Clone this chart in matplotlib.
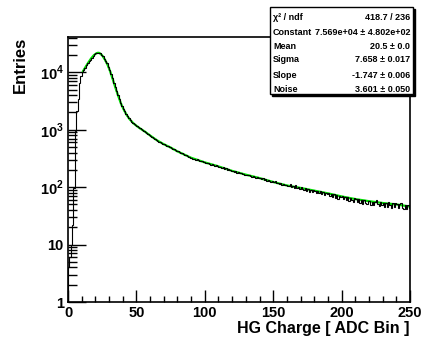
import numpy as np
import matplotlib
matplotlib.use("Agg")
import matplotlib.pyplot as plt
from matplotlib.patches import Rectangle

plt.rcParams['font.family'] = ['Liberation Sans', 'DejaVu Sans']
plt.rcParams['mathtext.fontset'] = 'custom'
plt.rcParams['mathtext.rm'] = 'Liberation Sans:bold'
plt.rcParams['mathtext.bf'] = 'Liberation Sans:bold'

# histogram: 250 bins of width 1, counts
edges = np.arange(0, 251)
counts = [
    4, 6, 10, 22, 95, 950, 2100, 3400, 6600, 8800,
    10000, 11000, 12100, 13200, 14400, 15600, 16700, 18100, 19500, 20500,
    21300, 21900, 21800, 21300, 20300, 19000, 17400, 15800, 14300, 12600,
    10900, 9300, 7900, 6600, 5500, 4700, 3980, 3420, 2950, 2580,
    2290, 2080, 1870, 1710, 1590, 1480, 1390, 1320, 1255, 1205,
    1150, 1115, 1075, 1025, 1000, 950, 915, 890, 850, 815,
    780, 742, 720, 695, 660, 648, 615, 605, 588, 572,
    565, 548, 527, 511, 503, 488, 470, 455, 449, 435,
    418, 405, 400, 386, 382, 361, 357, 345, 340, 328,
    326, 314, 310, 300, 305, 292, 290, 280, 284, 273,
    268, 262, 265, 252, 247, 250, 240, 236, 242, 231,
    228, 225, 219, 222, 210, 212, 203, 206, 198, 193,
    191, 186, 190, 180, 183, 175, 178, 169, 172, 165,
    166, 160, 163, 157, 152, 158, 150, 147, 151, 144,
    146, 139, 142, 135, 138, 130, 134, 128, 125, 129,
    122, 126, 117, 120, 114, 118, 110, 113, 108, 111,
    106, 103, 112, 100, 104, 95, 107, 96, 101, 94,
    99, 94, 89, 98, 86, 93, 84, 91, 82, 89,
    87, 80, 86, 78, 85, 75, 82, 73, 80, 76,
    79, 71, 77, 68, 75, 66, 73, 63, 71, 67,
    70, 62, 68, 59, 67, 57, 65, 60, 56, 64,
    63, 55, 61, 53, 60, 51, 59, 52, 50, 58,
    57, 49, 56, 48, 55, 59, 50, 47, 56, 49,
    54, 46, 53, 45, 56, 49, 44, 52, 46, 54,
    51, 43, 50, 53, 44, 41, 49, 42, 48, 44,
]

# fitted function, sampled from the green curve
fit_x = [11, 13, 15, 17, 19, 21, 22, 23, 25, 27, 29, 31, 33, 35, 37, 39, 41,
         43, 45, 48, 52, 56, 60, 65, 70, 75, 80, 90, 100, 110, 120, 130, 140,
         150, 160, 170, 180, 190, 200, 210, 220, 230, 240, 250]
fit_y = [10500, 12600, 15000, 17600, 20000, 21600, 21900, 21700, 19700, 16600,
         13400, 10100, 7200, 5100, 3700, 2750, 2180, 1790, 1530, 1280, 1080,
         935, 795, 655, 560, 490, 420, 325, 270, 230, 192, 165, 144, 123, 107,
         97, 87, 78, 69, 62, 57, 53, 50, 46]

stat_names = ["\u03c7\u00b2 / ndf", "Constant", "Mean", "Sigma", "Slope", "Noise"]
stat_values = ["418.7 / 236", "7.569e+04 \u00b1 4.802e+02", "20.5 \u00b1 0.0",
               "7.658 \u00b1 0.017", "-1.747 \u00b1 0.006", "3.601 \u00b1 0.050"]

y_ticks = [1, 10, 100, 1000, 10000]
y_labels = ["1", "10", r"$10^{2}$", r"$10^{3}$", r"$10^{4}$"]

fig = plt.figure(figsize=(4.23, 3.43), dpi=100)
ax = fig.add_axes([68 / 423, 1 - 302 / 343, 342 / 423, (302 - 37.3) / 343])

ax.plot(fit_x, fit_y, color="#00dd00", lw=1.6, zorder=2)
ax.stairs(counts, edges, color="black", lw=0.8, zorder=3)

ax.set_yscale("log")
ax.set_xlim(0, 250)
ax.set_ylim(1, 10 ** 4.61)

ax.set_xticks([0, 50, 100, 150, 200, 250])
ax.set_xticks(np.arange(0, 251, 10), minor=True)
ax.set_yticks(y_ticks)
ax.set_yticklabels(y_labels)
ax.yaxis.set_minor_locator(matplotlib.ticker.LogLocator(subs=np.arange(2, 10)))
ax.yaxis.set_minor_formatter(matplotlib.ticker.NullFormatter())

ax.tick_params(axis="both", which="both", direction="in", top=False, right=False,
               labelsize=10.5, width=1.0)
ax.tick_params(axis="x", which="major", length=9, pad=3)
ax.tick_params(axis="x", which="minor", length=4.5)
ax.tick_params(axis="y", which="major", length=13, pad=3)
ax.tick_params(axis="y", which="minor", length=6.5)
for lab in ax.get_xticklabels() + ax.get_yticklabels():
    lab.set_fontweight("bold")
for sp in ax.spines.values():
    sp.set_linewidth(1.2)

fig.text(20 / 423, 1 - 37 / 343, "Entries", rotation=90, ha="center", va="top",
         fontsize=12, fontweight="bold")
fig.text(409 / 423, 1 - 333 / 343, "HG Charge [ ADC Bin ]", ha="right", va="baseline",
         fontsize=11.5, fontweight="bold")

# stats box
bx0, by0, bx1, by1 = 270, 7, 413, 94
shadow = Rectangle((bx0 + 2, 343 - by1 - 2), bx1 - bx0, by1 - by0,
                   transform=None, facecolor="black", edgecolor="black",
                   zorder=10)
box = Rectangle((bx0, 343 - by1), bx1 - bx0, by1 - by0, transform=None,
                facecolor="white", edgecolor="black", lw=1.0, zorder=11)
fig.add_artist(shadow)
fig.add_artist(box)
row_y = [17.3, 32.7, 46.7, 60, 75, 89.3]
for name, val, yy in zip(stat_names, stat_values, row_y):
    fig.text(273 / 423, 1 - yy / 343, name, ha="left", va="center",
             fontsize=6.5, fontweight="bold", zorder=12)
    fig.text(410 / 423, 1 - yy / 343, val, ha="right", va="center",
             fontsize=6.5, fontweight="bold", zorder=12)

fig.savefig("out.png", dpi=100)
